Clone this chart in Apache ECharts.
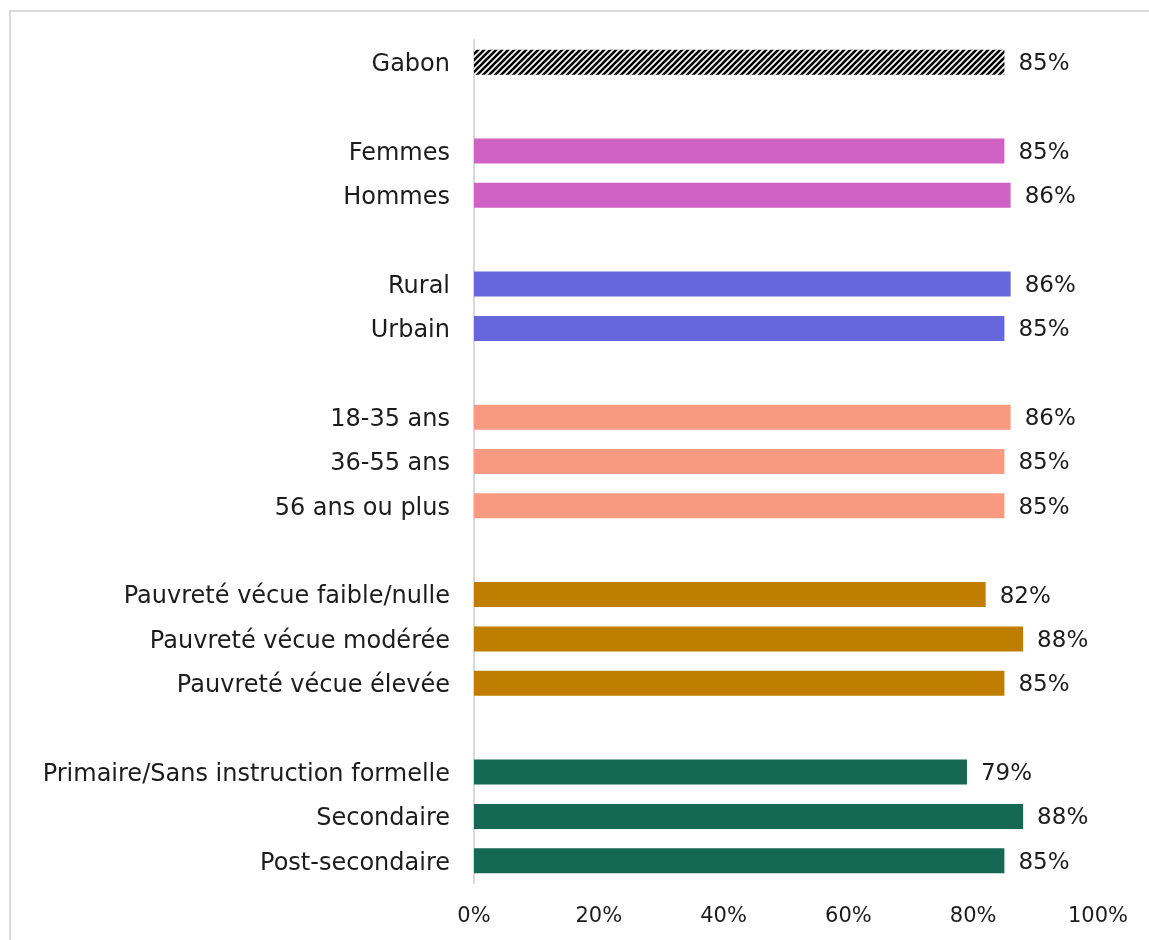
<!DOCTYPE html>
<html>
<head>
<meta charset="utf-8">
<script src="https://cdn.jsdelivr.net/npm/echarts@6/dist/echarts.min.js"></script>
<style>
  html, body { margin: 0; padding: 0; background: #fff; }
  #frame { position: absolute; left: 9px; top: 10px; width: 1160px; height: 960px;
           border-left: 2px solid #d9d9d9; border-top: 2px solid #d9d9d9; box-sizing: border-box; }
  #chart { width: 1149px; height: 940px; position: absolute; left: 0; top: 0; }
</style>
</head>
<body>
<div id="frame"></div>
<div id="chart"></div>
<script>
// Rows top to bottom; empty strings are spacer rows between groups
const categories = [
  'Gabon', '',
  'Femmes', 'Hommes', '',
  'Rural', 'Urbain', '',
  '18-35 ans', '36-55 ans', '56 ans ou plus', '',
  'Pauvreté vécue faible/nulle', 'Pauvreté vécue modérée', 'Pauvreté vécue élevée', '',
  'Primaire/Sans instruction formelle', 'Secondaire', 'Post-secondaire'
];
const values = [
  85, null,
  85, 86, null,
  86, 85, null,
  86, 85, 85, null,
  82, 88, 85, null,
  79, 88, 85
];
// group index of every row (-1 = spacer)
const groups = [0, -1, 1, 1, -1, 2, 2, -1, 3, 3, 3, -1, 4, 4, 4, -1, 5, 5, 5];
const axisTicks = [0, 20, 40, 60, 80, 100];

// striped fill for the national total
function stripes() {
  const s = 6;
  const c = document.createElement('canvas');
  c.width = s; c.height = s;
  const g = c.getContext('2d');
  g.fillStyle = '#fff';
  g.fillRect(0, 0, s, s);
  g.strokeStyle = '#000';
  g.lineWidth = 2.6;
  g.beginPath();
  g.moveTo(-1, s + 1); g.lineTo(s + 1, -1);
  g.moveTo(-1, 1); g.lineTo(1, -1);
  g.moveTo(s - 1, s + 1); g.lineTo(s + 1, s - 1);
  g.stroke();
  return { image: c, repeat: 'repeat' };
}

const palette = [stripes(), '#cf62c4', '#6666dd', '#f79a80', '#bf7e00', '#156954'];
const font = 'DejaVu Sans';
const ink = '#1c1c1c';

const chart = echarts.init(document.getElementById('chart'), null, { renderer: 'canvas' });
chart.setOption({
  animation: false,
  grid: { left: 474, right: 51, top: 40, bottom: 57, containLabel: false },
  xAxis: {
    type: 'value', min: 0, max: 100, interval: 20,
    axisLine: { show: false }, axisTick: { show: false }, splitLine: { show: false },
    axisLabel: {
      margin: 23, color: ink, fontFamily: font, fontSize: 21,
      formatter: v => axisTicks.includes(v) ? v + '%' : ''
    }
  },
  yAxis: {
    type: 'category', data: categories, inverse: true,
    axisLine: { show: true, lineStyle: { color: '#d9d9d9', width: 2 } },
    axisTick: { show: false },
    axisLabel: {
      margin: 24, color: ink, fontFamily: font, fontSize: 24,
      formatter: v => v ? '{t|' + v + '}' : '',
      rich: { t: { fontFamily: font, fontSize: 24, color: ink, padding: [5, 0, 0, 0] } }
    }
  },
  series: [{
    type: 'bar',
    barWidth: 25,
    data: values.map((v, i) => ({
      value: v,
      itemStyle: { color: groups[i] >= 0 ? palette[groups[i]] : '#fff' }
    })),
    label: {
      show: true, position: 'right', distance: 14, offset: [0, 2],
      color: ink, fontFamily: font, fontSize: 23,
      formatter: p => p.value == null ? '' : p.value + '%'
    }
  }]
});
</script>
</body>
</html>
